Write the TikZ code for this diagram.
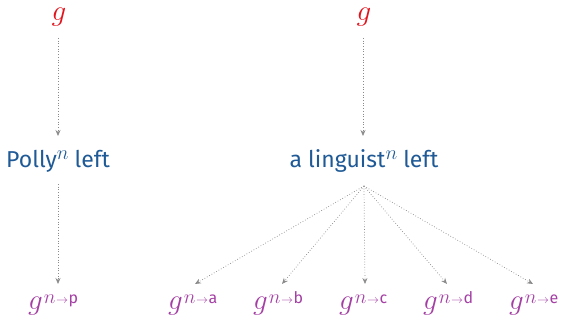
\RequirePackage{fix-cm}
\documentclass[tikz,border=0pt]{standalone}
\usepackage{fontspec}
\setmainfont{Fira Sans}
\usetikzlibrary{arrows.meta}
\definecolor{gred}{HTML}{E3121B}
\definecolor{lblue}{HTML}{1F5A96}
\definecolor{gpurp}{HTML}{A43FA4}
\definecolor{agray}{HTML}{8A8A8A}
\newcommand{\gbig}{{\fontsize{29}{29}\selectfont$g$}}
\newcommand{\supn}{\raisebox{8pt}{\fontsize{20}{20}\selectfont$n$}}
\newcommand{\gsub}[1]{\gbig\kern1pt\raisebox{6pt}{\fontsize{20}{20}\selectfont$n$\kern0.5pt{\fontsize{12}{12}\selectfont$\rightarrow$}\kern0.5pt{\fontsize{16}{16}\selectfont #1}}}
\tikzset{
  top/.style={text=gred, inner sep=0pt, anchor=base},
  mid/.style={text=lblue, font=\fontsize{23}{26}\selectfont, inner sep=0pt, anchor=base},
  leaf/.style={text=gpurp, inner sep=0pt, anchor=base west},
  conn/.style={draw=agray, dotted, line width=0.7pt, -{Stealth[length=6pt,width=5pt]}},
}
\begin{document}
\begin{tikzpicture}[x=1pt,y=-1pt]
\useasboundingbox (0,0) rectangle (563,320);
\node[top] (g1) at (59,21) {\gbig};
\node[top] (g2) at (364,21) {\gbig};
\node[mid] (m1) at (58,168) {Polly\supn\ left};
\node[mid] (m2) at (364,168) {a linguist\supn\ left};
\node[leaf] (p) at (28,310) {\gsub{p}};
\node[leaf] (a) at (168,310) {\gsub{a}};
\node[leaf] (b) at (253,310) {\gsub{b}};
\node[leaf] (c) at (339,310) {\gsub{c}};
\node[leaf] (d) at (423,310) {\gsub{d}};
\node[leaf] (e) at (509,310) {\gsub{e}};
\coordinate (g1b) at (58,38);
\coordinate (m1t) at (58,136);
\coordinate (g2b) at (363,38);
\coordinate (m2t) at (363,136);
\coordinate (m1b) at (58,184);
\coordinate (m2b) at (364,186);
\coordinate (pt) at (58,284);
\coordinate (at) at (195,284);
\coordinate (bt) at (282,284);
\coordinate (ct) at (365,284);
\coordinate (dt) at (447,284);
\coordinate (et) at (533,284);
\draw[conn] (g1b) -- (m1t);
\draw[conn] (g2b) -- (m2t);
\draw[conn] (m1b) -- (pt);
\foreach \t in {at,bt,ct,dt,et} \draw[conn] (m2b) -- (\t);
\end{tikzpicture}
\end{document}
